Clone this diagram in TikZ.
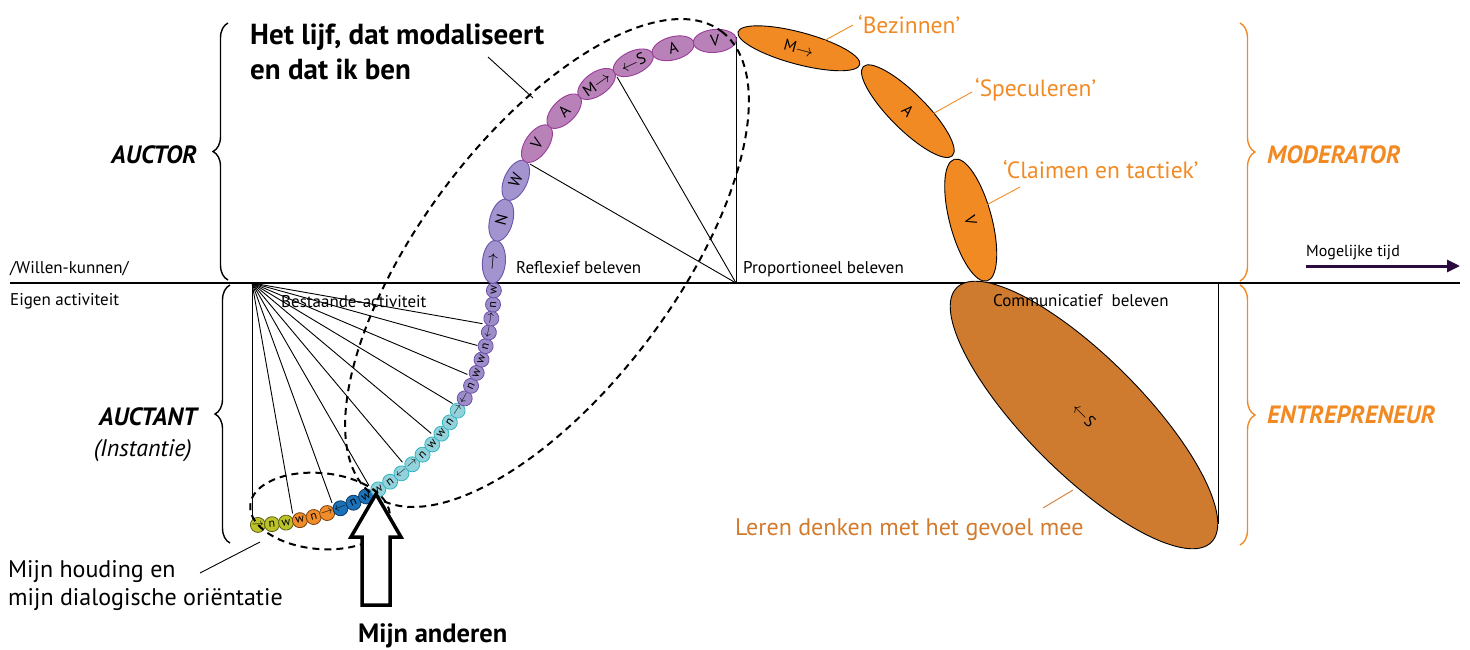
\documentclass[tikz,border=0pt]{standalone}
\usepackage{fontspec}
\setmainfont{PT Sans}
\usetikzlibrary{shapes.geometric,decorations.pathreplacing,arrows.meta,calc}

% bead colours
\definecolor{ygfill}{HTML}{BCC22A}\definecolor{ygline}{HTML}{5E6010}
\definecolor{ogfill}{HTML}{F08C2A}\definecolor{ogline}{HTML}{7A4210}
\definecolor{blfill}{HTML}{1B72B8}\definecolor{blline}{HTML}{0C3A66}
\definecolor{cyfill}{HTML}{93D2DB}\definecolor{cyline}{HTML}{2DB5C2}
\definecolor{pufill}{HTML}{9C8CCA}\definecolor{puline}{HTML}{6B4FA5}
\definecolor{lvfill}{HTML}{A393CE}\definecolor{lvline}{HTML}{6A55AA}
\definecolor{mgfill}{HTML}{B882B9}\definecolor{mgline}{HTML}{9A3C9A}
\definecolor{orng}{HTML}{F28A24}
\definecolor{brn}{HTML}{CF7B2F}
\definecolor{lerentxt}{HTML}{D27B2E}
\definecolor{timearrow}{HTML}{2B0B3F}

\begin{document}
\begin{tikzpicture}[x=1pt,y=-1pt,
  thinline/.style={line width=0.9pt},
  dashline/.style={line width=2pt,dash pattern=on 7pt off 5pt},
  bead/.style={circle,draw=#1line,fill=#1fill,minimum size=15pt,inner sep=0pt,
    line width=0.8pt,font=\fontsize{12}{12}\selectfont},
  ubead/.style={ellipse,draw=#1line,fill=#1fill,minimum width=43pt,minimum height=23pt,
    inner sep=0pt,line width=0.9pt,font=\fontsize{16}{16}\selectfont},
  obead/.style={ellipse,draw=black,fill=orng,minimum width=126pt,inner sep=0pt,
    line width=0.9pt,font=\fontsize{16}{16}\selectfont},
  lbl/.style={font=\fontsize{17}{20}\selectfont,inner sep=0pt,anchor=base west},
  role/.style={font=\fontsize{25}{28}\selectfont\bfseries\itshape,inner sep=0pt},
  olbl/.style={font=\fontsize{23.5}{27}\selectfont,text=orng,inner sep=0pt,anchor=base west},
  headline/.style={font=\fontsize{29}{33}\selectfont\bfseries,inner sep=0pt,anchor=base west},
  note/.style={font=\fontsize{24}{28}\selectfont,inner sep=0pt,anchor=base west},
  lbrace/.style={decorate,decoration={brace,amplitude=15pt},line width=1.4pt},
]
\useasboundingbox (0,0) rectangle (1470,649);

% centres of the two arcs
\coordinate (oL) at (252,283);
\coordinate (oU) at (736,283);

% time axis
\coordinate (axL) at (10,283);
\coordinate (axR) at (1460,283);
\draw[line width=2pt] (axL) -- (axR);

% vertical guides
\coordinate (vL) at (252,526);
\coordinate (vU) at (736,37);
\coordinate (vR1) at (1218,283);
\coordinate (vR2) at (1218,524);
\draw[thinline] (oL) -- (vL);
\draw[thinline] (oU) -- (vU);
\draw[thinline] (vR1) -- (vR2);

% fan of the existing activity
\foreach \a [count=\i] in {-80,-70,-60,-50,-40,-31,-23,-15.5,-10}{
  \coordinate (f\i) at ({252+234*cos(\a)},{283-234*sin(\a)});
  \draw[thinline] (oL) -- (f\i);
}
% fan of reflexive experience
\coordinate (g1) at ({736+238*cos(150)},{283-238*sin(150)});
\coordinate (g2) at ({736+238*cos(120)},{283-238*sin(120)});
\draw[thinline] (oU) -- (g1);
\draw[thinline] (oU) -- (g2);

% lower chain of small beads
\foreach \txt/\col [count=\k from 0] in {
  {$\rightarrow$}/yg, n/yg, w/yg,
  w/og, n/og, {$\rightarrow$}/og,
  {$\leftarrow$}/bl, n/bl, w/bl,
  w/cy, n/cy, {$\leftarrow$}/cy, {$\rightarrow$}/cy, n/cy, w/cy, w/cy, n/cy, {$\rightarrow$}/cy,
  {$\leftarrow$}/pu, n/pu, w/pu, w/pu, n/pu, {$\leftarrow$}/pu, {$\rightarrow$}/pu, n/pu, w/pu}{
  \pgfmathsetmacro\a{-88.6+3.34*\k}
  \node[bead=\col,rotate=\a+90] (lb\k) at ({252+242*cos(\a)},{283-242*sin(\a)}) {\txt};
}

% upper chain of beads
\foreach \txt/\col [count=\k from 0] in {
  {$\rightarrow$}/lv, N/lv, W/lv, V/mg, A/mg, {M$\rightarrow$}/mg, {$\leftarrow$S}/mg, A/mg, V/mg}{
  \pgfmathsetmacro\a{175-10*\k}
  \node[ubead=\col,rotate=\a-90] (ub\k) at ({736+243*cos(\a)},{283-243*sin(\a)}) {\txt};
}

% moderator beads
\node[obead,minimum height=32pt,rotate=-15] (o1) at ({736+243*cos(75)},{283-243*sin(75)}) {M$\rightarrow$};
\node[obead,minimum height=36pt,rotate=-45] (o2) at ({736+243*cos(45)},{283-243*sin(45)}) {A};
\node[obead,minimum height=42pt,rotate=-75] (o3) at ({736+243*cos(15)},{283-243*sin(15)}) {V};

% entrepreneur ellipse
\node[ellipse,draw=black,fill=brn,line width=0.9pt,minimum width=360pt,minimum height=116pt,
  inner sep=0pt,rotate=-45,font=\fontsize{16}{16}\selectfont] (big) at (1084,415) {$\leftarrow$S};

% dashed groupings
\draw[dashline,rotate around={53:(547,263)}] (547,263) ellipse (290 and 127);
\draw[dashline,rotate around={-5:(320,511)}] (320,511) ellipse (70 and 38);

% hollow arrow "Mijn anderen"
\draw[line width=3.5pt,fill=white,line join=miter]
  (376,494) -- (401,537) -- (390,537) -- (390,605) -- (362,605) -- (362,537) -- (351,537) -- cycle;

% braces
\draw[lbrace] (228,280) -- (228,23);
\draw[lbrace] (230,543) -- (230,285);
\draw[lbrace,draw=orng] (1240,23) -- (1240,281);
\draw[lbrace,draw=orng] (1240,285) -- (1240,545);

% time arrow
\node[lbl,font=\fontsize{16}{18}\selectfont] (mt) at (1306,256) {Mogelijke tijd};
\coordinate (ta1) at (1306,266);
\coordinate (ta2) at (1460,266);
\draw[line width=3pt,draw=timearrow,-{Triangle[length=13pt,width=12pt]}] (ta1) -- (ta2);

% axis labels
\node[lbl] (wk) at (10,273) {/Willen-kunnen/};
\node[lbl] (ea) at (10,305) {Eigen activiteit};
\node[lbl] (rb) at (516,273) {Reflexief beleven};
\node[lbl] (pb) at (743,273) {Proportioneel beleven};
\node[lbl] (ba) at (281,307) {Bestaande-activiteit};
\node[lbl] (cb) at (993,306) {Communicatief\ \ beleven};

% roles
\node[role,anchor=base east] (auctor) at (197,163) {AUCTOR};
\node[role,anchor=base east] (auctant) at (197,425) {AUCTANT};
\node[font=\fontsize{24}{28}\selectfont\itshape,inner sep=0pt,anchor=base east] (inst) at (192,456) {(Instantie)};
\node[role,text=orng,anchor=base west] (mod) at (1267,163) {MODERATOR};
\node[role,text=orng,anchor=base west] (ent) at (1267,423) {ENTREPRENEUR};

% headline
\node[headline] (lijf1) at (250,44) {Het lijf, dat modaliseert};
\node[headline] (lijf2) at (250,79) {en dat ik ben};
\coordinate (lijfA) at (488,57);
\coordinate (lijfB) at (533,98);
\draw[thinline] (lijfA) -- (lijfB);

% moderator labels
\node[olbl] (bez) at (858,33) {‘Bezinnen’};
\node[olbl] (spe) at (975,96) {‘Speculeren’};
\node[olbl] (cla) at (1003,178) {‘Claimen en tactiek’};
\coordinate (bz1) at (853,25);  \coordinate (bz2) at (820,43);
\coordinate (sp1) at (972,92);  \coordinate (sp2) at (927,117);
\coordinate (cl1) at (1020,187); \coordinate (cl2) at (977,210);
\draw[thinline,draw=orng] (bz1) -- (bz2);
\draw[thinline,draw=orng] (sp1) -- (sp2);
\draw[thinline,draw=orng] (cl1) -- (cl2);

% entrepreneur label
\node[note,text=lerentxt] (leren) at (735,535) {Leren denken met het gevoel mee};
\coordinate (le1) at (1043,508); \coordinate (le2) at (1073,490);
\draw[thinline,draw=lerentxt] (le1) -- (le2);

% bottom notes
\node[note] (hd1) at (8,577) {Mijn houding en};
\node[note] (hd2) at (8,605) {mijn dialogische oriëntatie};
\coordinate (hdA) at (200,573); \coordinate (hdB) at (260,542);
\draw[thinline] (hdA) -- (hdB);
\node[note,font=\fontsize{26.5}{30}\selectfont\bfseries] (and) at (358,642) {Mijn anderen};

\end{tikzpicture}
\end{document}
